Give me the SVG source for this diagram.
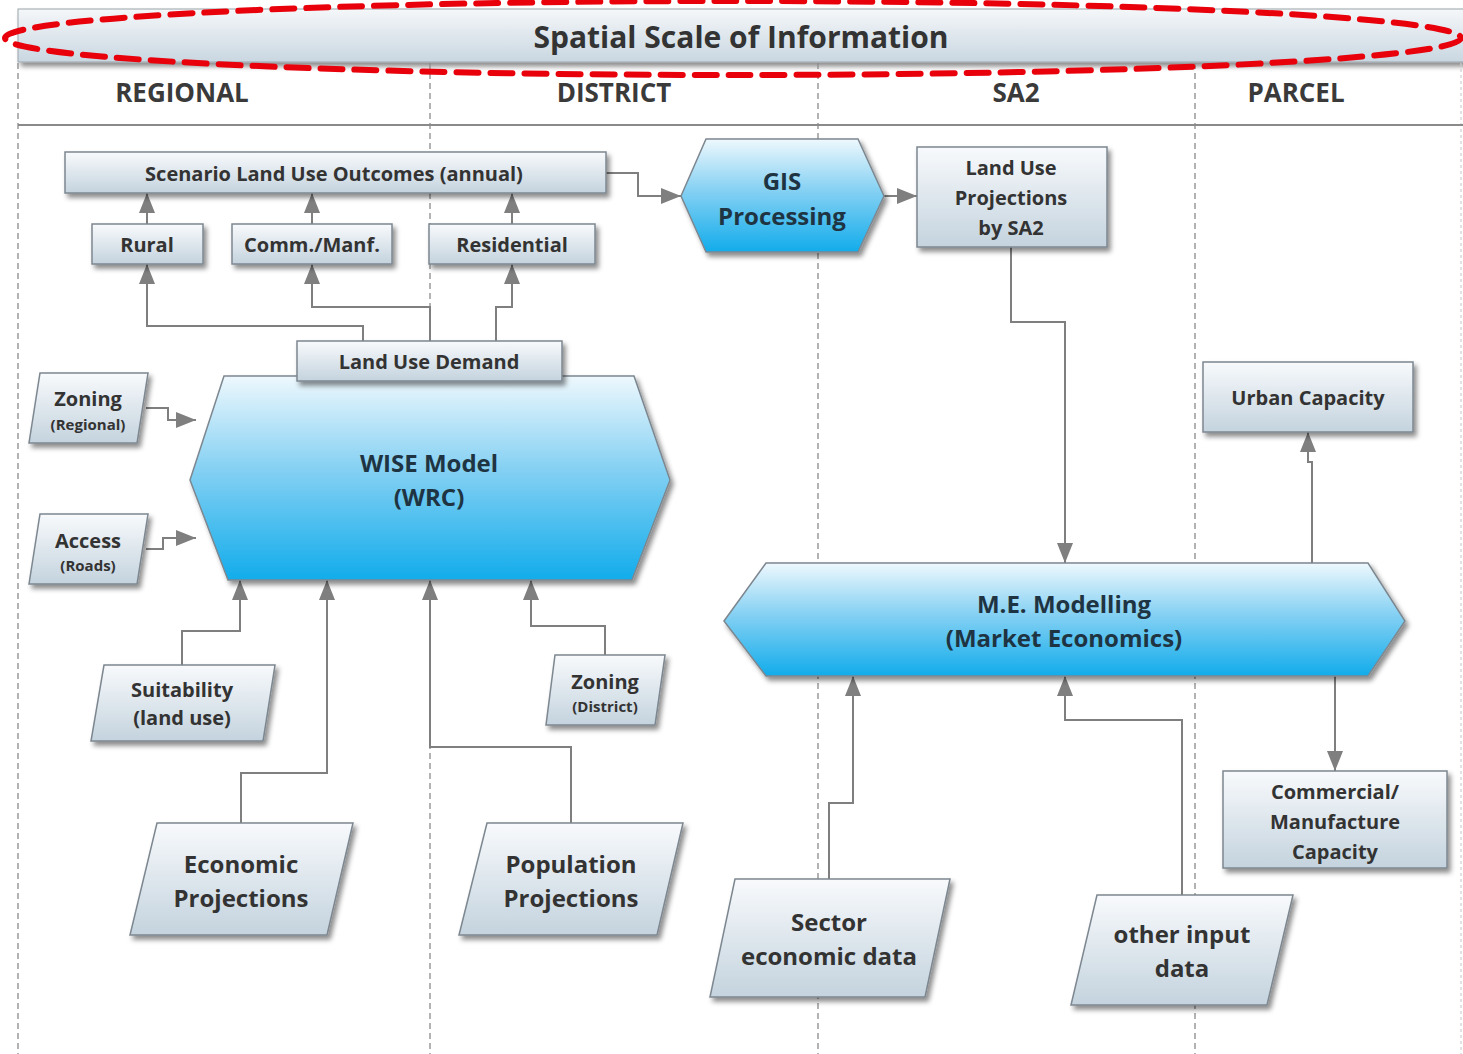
<svg xmlns="http://www.w3.org/2000/svg" width="1463" height="1054" viewBox="0 0 1463 1054">
<defs>
<linearGradient id="gBox" x1="0" y1="0" x2="0" y2="1">
<stop offset="0" stop-color="#f8fafc"/><stop offset="1" stop-color="#c4d3de"/>
</linearGradient>
<linearGradient id="gHead" x1="0" y1="0" x2="0" y2="1">
<stop offset="0" stop-color="#f5f7f9"/><stop offset="1" stop-color="#c9d7e1"/>
</linearGradient>
<linearGradient id="gBlue" x1="0" y1="0" x2="0" y2="1">
<stop offset="0" stop-color="#eef8fd"/><stop offset="0.45" stop-color="#86d1f3"/><stop offset="1" stop-color="#12aceb"/>
</linearGradient>
<filter id="sh" x="-10%" y="-10%" width="130%" height="140%">
<feDropShadow dx="3" dy="4" stdDeviation="2.5" flood-color="#000" flood-opacity="0.45"/>
</filter>
<marker id="ar" viewBox="0 0 20 16" refX="20" refY="8" markerWidth="20" markerHeight="16" markerUnits="userSpaceOnUse" orient="auto">
<path d="M0,0 L20,8 L0,16 Z" fill="#7f7f7f"/>
</marker>
<style>
.box{fill:url(#gBox);stroke:#7d8790;stroke-width:1.5;filter:url(#sh)}
.hex{fill:url(#gBlue);stroke:#7d8790;stroke-width:1.5;filter:url(#sh)}
.t{font-family:"Open Sans","Noto Sans",sans-serif;font-weight:700;fill:#333;text-anchor:middle}
.tb{font-family:"Open Sans","Noto Sans",sans-serif;font-weight:700;fill:#1f3442;text-anchor:middle}
.s20{font-size:20px}
.s15{font-size:15px}
.s24{font-size:24px}
.col{font-family:"Open Sans","Noto Sans",sans-serif;font-weight:700;fill:#3a3a3a;font-size:26px;text-anchor:middle}
.vl{stroke:#8a8a8a;stroke-width:1.3;stroke-dasharray:6 4;fill:none}
.c{fill:none;stroke:#7f7f7f;stroke-width:2;marker-end:url(#ar)}
</style>
</defs>
<rect width="1463" height="1054" fill="#fff"/>
<g id="lanes">
<rect x="18" y="9" width="1450" height="53" fill="url(#gHead)" stroke="#9aa3aa" stroke-width="1" filter="url(#sh)"/>
<text class="t" x="741" y="48" font-size="30">Spatial Scale of Information</text>
<line class="vl" x1="18" y1="63" x2="18" y2="1054"/>
<line class="vl" x1="430" y1="63" x2="430" y2="1054"/>
<line class="vl" x1="818" y1="63" x2="818" y2="1054"/>
<line class="vl" x1="1195" y1="63" x2="1195" y2="1054"/>
<line x1="1461" y1="63" x2="1461" y2="1054" stroke="#cfcfcf" stroke-width="1.2" stroke-dasharray="3 3"/>
<line x1="18" y1="125" x2="1463" y2="125" stroke="#8a8a8a" stroke-width="2"/>
<text class="col" x="182" y="102">REGIONAL</text>
<text class="col" x="614" y="102">DISTRICT</text>
<text class="col" x="1016" y="102">SA2</text>
<text class="col" x="1296" y="102">PARCEL</text>
</g>
<g id="connectors">
<polyline class="c" points="606,173 638,173 638,196 681,196"/>
<polyline class="c" points="884,196 917,196"/>
<polyline class="c" points="1011,247 1011,322 1065,322 1065,563"/>
<polyline class="c" points="147,224 147,193"/>
<polyline class="c" points="312,224 312,193"/>
<polyline class="c" points="512,224 512,193"/>
<polyline class="c" points="363,341 363,326 147,326 147,264"/>
<polyline class="c" points="430,341 430,307 312,307 312,264"/>
<polyline class="c" points="496,341 496,307 512,307 512,264"/>
<polyline class="c" points="146,408 168,408 168,420 196,420"/>
<polyline class="c" points="146,549 163,549 163,538 196,538"/>
<polyline class="c" points="182,665 182,631 240,631 240,580"/>
<polyline class="c" points="241,823 241,773 327,773 327,580"/>
<polyline class="c" points="571,823 571,747 430,747 430,580"/>
<polyline class="c" points="605,655 605,626 531,626 531,580"/>
<polyline class="c" points="829,879 829,803 853,803 853,676"/>
<polyline class="c" points="1182,895 1182,720 1065,720 1065,676"/>
<polyline class="c" points="1312,563 1312,462 1308,462 1308,432"/>
<polyline class="c" points="1335,676 1335,771"/>
</g>
<g id="scenario"><rect class="box" x="65" y="152" width="541" height="41"/><text class="t s20" x="334" y="181">Scenario Land Use Outcomes (annual)</text></g>
<g id="rural"><rect class="box" x="92" y="224" width="111" height="40"/><text class="t s20" x="147" y="252">Rural</text></g>
<g id="comm"><rect class="box" x="232" y="224" width="160" height="40"/><text class="t s20" x="312" y="252">Comm./Manf.</text></g>
<g id="residential"><rect class="box" x="429" y="224" width="166" height="40"/><text class="t s20" x="512" y="252">Residential</text></g>
<g id="gis"><polygon class="hex" points="681,196 706,139 858,139 884,196 858,252 706,252"/><text class="tb s24" x="782" y="190">GIS</text><text class="tb s24" x="782" y="225">Processing</text></g>
<g id="lup"><rect class="box" x="917" y="147" width="190" height="100"/><text class="t s20" x="1011" y="175">Land Use</text><text class="t s20" x="1011" y="205">Projections</text><text class="t s20" x="1011" y="235">by SA2</text></g>
<g id="wise"><polygon class="hex" points="224,376 634,376 670,480 632,580 228,580 190,480"/><text class="tb s24" x="429" y="472">WISE Model</text><text class="tb s24" x="429" y="506">(WRC)</text></g>
<g id="lud"><rect class="box" x="297" y="341" width="265" height="40"/><text class="t s20" x="429" y="369">Land Use Demand</text></g>
<g id="zoningR"><polygon class="box" points="40,373 148,373 137,443 29,443"/><text class="t s20" x="88" y="406">Zoning</text><text class="t s15" x="88" y="430">(Regional)</text></g>
<g id="access"><polygon class="box" points="40,514 148,514 137,584 29,584"/><text class="t s20" x="88" y="548">Access</text><text class="t s15" x="88" y="571">(Roads)</text></g>
<g id="suit"><polygon class="box" points="104,665 275,665 263,741 91,741"/><text class="t s20" x="182" y="697">Suitability</text><text class="t s20" x="182" y="725">(land use)</text></g>
<g id="zoningD"><polygon class="box" points="555,655 665,655 655,725 546,725"/><text class="t s20" x="605" y="689">Zoning</text><text class="t s15" x="605" y="712">(District)</text></g>
<g id="econ"><polygon class="box" points="157,823 353,823 327,935 130,935"/><text class="t s24" x="241" y="873">Economic</text><text class="t s24" x="241" y="907">Projections</text></g>
<g id="pop"><polygon class="box" points="487,823 683,823 657,935 459,935"/><text class="t s24" x="571" y="873">Population</text><text class="t s24" x="571" y="907">Projections</text></g>
<g id="me"><polygon class="hex" points="724,621 766,563 1368,563 1405,621 1368,676 766,676"/><text class="tb s24" x="1064" y="613">M.E. Modelling</text><text class="tb s24" x="1064" y="647">(Market Economics)</text></g>
<g id="urban"><rect class="box" x="1203" y="362" width="210" height="70"/><text class="t s20" x="1308" y="405">Urban Capacity</text></g>
<g id="commcap"><rect class="box" x="1223" y="771" width="224" height="97"/><text class="t s20" x="1335" y="799">Commercial/</text><text class="t s20" x="1335" y="829">Manufacture</text><text class="t s20" x="1335" y="859">Capacity</text></g>
<g id="sector"><polygon class="box" points="735,879 950,879 925,997 710,997"/><text class="t s24" x="829" y="931">Sector</text><text class="t s24" x="829" y="965">economic data</text></g>
<g id="other"><polygon class="box" points="1097,895 1293,895 1267,1005 1071,1005"/><text class="t s24" x="1182" y="943">other input</text><text class="t s24" x="1182" y="977">data</text></g>
<g id="highlight"><ellipse cx="733" cy="38" rx="728" ry="37" fill="none" stroke="#e8000b" stroke-width="6" stroke-dasharray="22 12" stroke-linecap="round"/></g>
</svg>
